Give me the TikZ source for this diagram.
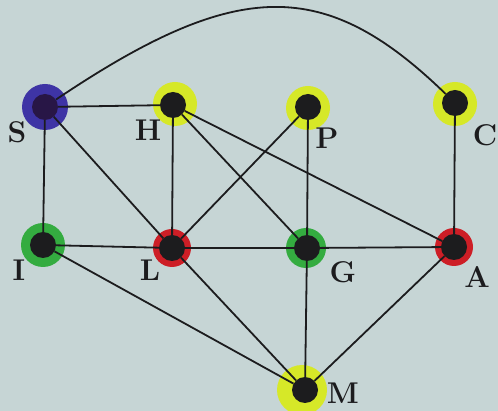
\documentclass[tikz,border=0pt]{standalone}
\begin{document}
\definecolor{paper}{RGB}{198,213,213}
\definecolor{hyel}{RGB}{214,232,40}
\definecolor{hgrn}{RGB}{52,172,64}
\definecolor{hred}{RGB}{205,30,38}
\definecolor{hblu}{RGB}{62,52,165}
\definecolor{ink}{RGB}{28,28,30}
\begin{tikzpicture}[x=1pt,y=-1pt,
  dot/.style={circle,fill=ink,inner sep=0pt,minimum size=26pt},
  edge/.style={draw=ink,line width=1.8pt},
  lab/.style={font=\fontsize{30}{32}\selectfont\bfseries,text=ink,inner sep=0pt}]
\fill[paper] (0,0) rectangle (498,411);
\useasboundingbox (0,0) rectangle (498,411);
% halos
\fill[hblu] (45,107) circle (23);
\fill[hyel] (175,104) circle (22);
\fill[hyel] (308,108) circle (22);
\fill[hyel] (455,104) circle (22);
\fill[hgrn] (43,245) circle (22);
\fill[hred] (172,248) circle (19);
\fill[hgrn] (306,248) circle (20);
\fill[hred] (454,247) circle (19);
\fill[hyel] (302,390) circle (25);
% dots
\node[dot,fill={rgb,255:red,40;green,22;blue,70}] (S) at (45,107) {};
\node[dot] (H) at (173,105) {};
\node[dot] (P) at (308,107) {};
\node[dot] (C) at (455,103) {};
\node[dot] (I) at (43,245) {};
\node[dot] (L) at (172,248) {};
\node[dot] (G) at (307,248) {};
\node[dot] (A) at (454,247) {};
\node[dot] (M) at (305,390) {};
% edges
\draw[edge] (S) -- (H);
\draw[edge] (S) -- (I);
\draw[edge] (S) -- (L);
\draw[edge] (S) .. controls (238,-23) and (325,-23) .. (C);
\draw[edge] (H) -- (L);
\draw[edge] (H) -- (G);
\draw[edge] (H) -- (A);
\draw[edge] (P) -- (L);
\draw[edge] (P) -- (G);
\draw[edge] (C) -- (A);
\draw[edge] (I) -- (L);
\draw[edge] (L) -- (G);
\draw[edge] (G) -- (A);
\draw[edge] (I) -- (M);
\draw[edge] (L) -- (M);
\draw[edge] (G) -- (M);
\draw[edge] (A) -- (M);
% labels
\node[lab] (tS) at (17,132) {S};
\node[lab] (tH) at (148,130) {H};
\node[lab] (tP) at (327,138) {P};
\node[lab] (tC) at (485,135) {C};
\node[lab] (tI) at (19,270) {I};
\node[lab] (tL) at (150,270) {L};
\node[lab] (tG) at (343,272) {G};
\node[lab] (tA) at (477,277) {A};
\node[lab] (tM) at (343,393) {M};
\end{tikzpicture}
\end{document}
